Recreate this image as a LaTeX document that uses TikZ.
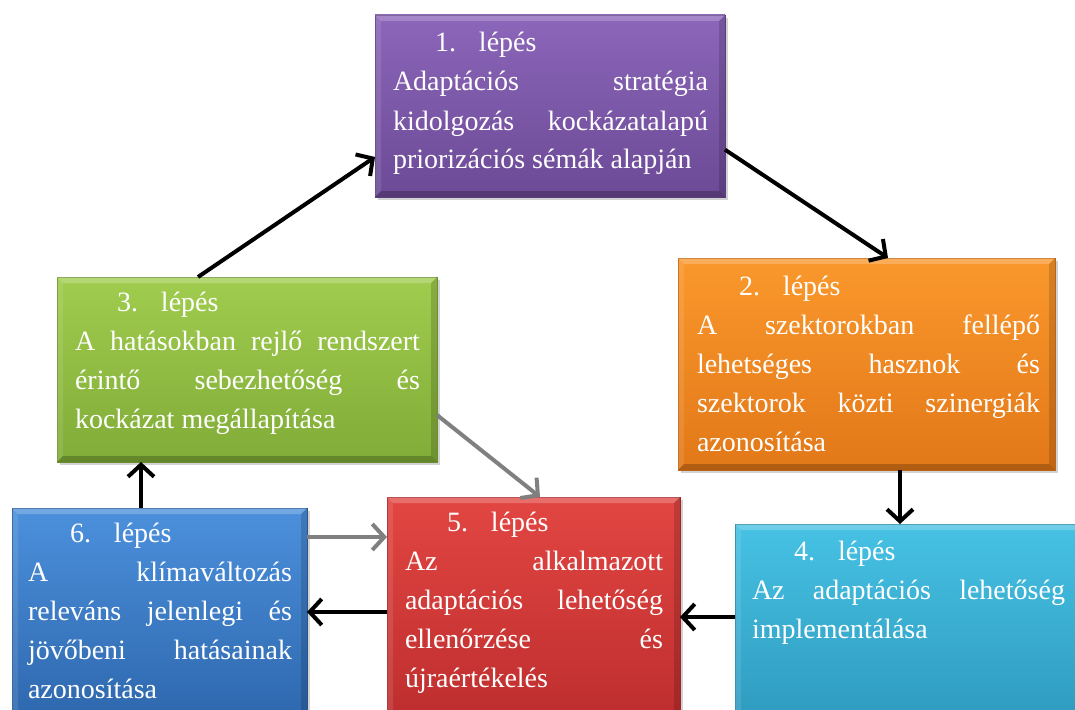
\documentclass[tikz,border=0pt]{standalone}
\usepackage{fontspec}
\setmainfont{Liberation Serif}
\usetikzlibrary{arrows.meta,shadows,calc}

\newcommand{\jl}[1]{\makebox[\linewidth][s]{#1}\\}
\newcommand{\stephead}[1]{\hspace*{42pt}\makebox[44pt][l]{#1}lépés\\}
\newcommand{\bevel}[1]{%
  \fill[white,opacity=0.22] (#1.north west) -- (#1.north east) -- ([shift={(-6,6)}]#1.north east) -- ([shift={(6,6)}]#1.north west) -- cycle;
  \fill[white,opacity=0.10] (#1.north west) -- ([shift={(6,6)}]#1.north west) -- ([shift={(6,-6)}]#1.south west) -- (#1.south west) -- cycle;
  \fill[black,opacity=0.22] (#1.south west) -- ([shift={(6,-6)}]#1.south west) -- ([shift={(-6,-6)}]#1.south east) -- (#1.south east) -- cycle;
  \fill[black,opacity=0.15] (#1.north east) -- (#1.south east) -- ([shift={(-6,-6)}]#1.south east) -- ([shift={(-6,6)}]#1.north east) -- cycle;}

\definecolor{purT}{RGB}{140,102,186}
\definecolor{purB}{RGB}{108,74,150}
\definecolor{orT}{RGB}{250,152,44}
\definecolor{orB}{RGB}{226,120,24}
\definecolor{grT}{RGB}{160,204,78}
\definecolor{grB}{RGB}{128,172,56}
\definecolor{cyT}{RGB}{70,194,228}
\definecolor{cyB}{RGB}{46,154,190}
\definecolor{reT}{RGB}{226,70,66}
\definecolor{reB}{RGB}{190,46,46}
\definecolor{blT}{RGB}{76,144,220}
\definecolor{blB}{RGB}{46,104,174}
\definecolor{arrgray}{RGB}{128,128,128}

\begin{document}
\begin{tikzpicture}[x=1pt,y=-1pt,
  box/.style 2 args={rectangle, anchor=north west, inner sep=0pt, outer sep=0pt,
    top color=#1, bottom color=#2, draw=#2!85!black, line width=0.6pt,
    drop shadow={opacity=0.35, shadow xshift=3pt, shadow yshift=-3pt}},
  txt/.style={anchor=base west, inner sep=0pt, outer sep=0pt, text=white,
    font=\fontsize{28}{39}\selectfont},
  arr/.style={line width=4pt, -{Straight Barb[length=12pt,width=26pt]}},
  garr/.style={arr, draw=arrgray}]
\useasboundingbox (0,0) rectangle (1075,709);
\clip (0,0) rectangle (1075,709);
\fill[white] (0,0) rectangle (1075,709);

\node[box={purT}{purB}, minimum width=350pt, minimum height=182pt] (b1) at (375,15) {};
\node[box={orT}{orB}, minimum width=377pt, minimum height=212pt] (b2) at (678,258) {};
\node[box={grT}{grB}, minimum width=380pt, minimum height=185pt] (b3) at (57,277) {};
\node[box={cyT}{cyB}, minimum width=350pt, minimum height=200pt] (b4) at (735,524) {};
\node[box={reT}{reB}, minimum width=293pt, minimum height=220pt] (b5) at (387,497) {};
\node[box={blT}{blB}, minimum width=295pt, minimum height=210pt] (b6) at (12,508) {};
\bevel{b1}\bevel{b2}\bevel{b3}\bevel{b4}\bevel{b5}\bevel{b6}

\node[txt] (t1) at ([shift={(18,37)}]b1.north west) {\parbox[t]{315pt}{\stephead{1.}\jl{Adaptációs stratégia}\jl{kidolgozás kockázatalapú}priorizációs sémák alapján}};
\node[txt] (t2) at ([shift={(19,37)}]b2.north west) {\parbox[t]{343pt}{\stephead{2.}\jl{A szektorokban fellépő}\jl{lehetséges hasznok és}\jl{szektorok közti szinergiák}azonosítása}};
\node[txt] (t3) at ([shift={(18,34)}]b3.north west) {\parbox[t]{345pt}{\stephead{3.}\jl{A hatásokban rejlő rendszert}\jl{érintő sebezhetőség és}kockázat megállapítása}};
\node[txt] (t4) at ([shift={(17,36)}]b4.north west) {\parbox[t]{313pt}{\stephead{4.}\jl{Az adaptációs lehetőség}implementálása}};
\node[txt] (t5) at ([shift={(18,34)}]b5.north west) {\parbox[t]{258pt}{\stephead{5.}\jl{Az alkalmazott}\jl{adaptációs lehetőség}\jl{ellenőrzése és}újraértékelés}};
\node[txt] (t6) at ([shift={(16,34)}]b6.north west) {\parbox[t]{264pt}{\stephead{6.}\jl{A klímaváltozás}\jl{releváns jelenlegi és}\jl{jövőbeni hatásainak}azonosítása}};

\draw[arr] ([xshift=141pt]b3.north west) -- ($(b1.north west)!0.78!(b1.south west)$);
\draw[arr] ($(b1.north east)!0.74!(b1.south east)$) -- ([xshift=210pt]b2.north west);
\draw[arr] ([xshift=222pt]b2.south west) -- ([xshift=165pt]b4.north west);
\draw[arr] ([yshift=-93pt]b4.north west) -- ([yshift=-120pt]b5.north east);
\draw[arr] ([yshift=-115pt]b5.north west) -- ([yshift=-104pt]b6.north east);
\draw[arr] ([xshift=129pt]b6.north west) -- ([xshift=84pt]b3.south west);
\draw[garr] ([yshift=-29pt]b6.north east) -- ([yshift=-40pt]b5.north west);
\draw[garr] ([yshift=-138pt]b3.north east) -- ([xshift=153pt]b5.north west);
\end{tikzpicture}
\end{document}
